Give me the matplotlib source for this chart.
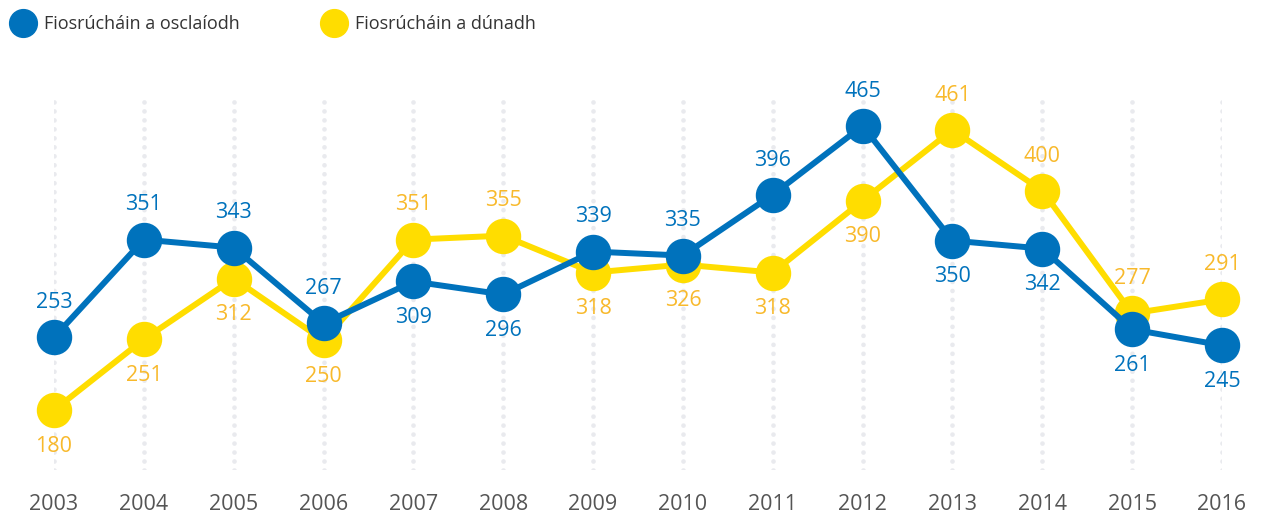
import matplotlib
matplotlib.use('Agg')
import matplotlib.pyplot as plt
from matplotlib.lines import Line2D

plt.rcParams['font.family'] = ['Open Sans', 'DejaVu Sans']

years = [2003, 2004, 2005, 2006, 2007, 2008, 2009, 2010, 2011, 2012, 2013, 2014, 2015, 2016]
opened = [253, 351, 343, 267, 309, 296, 339, 335, 396, 465, 350, 342, 261, 245]
closed = [180, 251, 312, 250, 351, 355, 318, 326, 318, 390, 461, 400, 277, 291]
# label above (+1) or below (-1) each point
opened_pos = [1, 1, 1, 1, -1, -1, 1, 1, 1, 1, -1, -1, -1, -1]
closed_pos = [-1, -1, -1, -1, 1, 1, -1, -1, -1, -1, 1, 1, 1, 1]
series_names = ['Fiosrúcháin a osclaíodh', 'Fiosrúcháin a dúnadh']

blue = '#0072BC'
yellow = '#FFDD00'
yellow_text = '#F8B92B'

W, H = 1262, 521
fig = plt.figure(figsize=(W / 100, H / 100), dpi=100)
ax = fig.add_axes([54 / W, 1 - 470 / H, (1222 - 54) / W, (470 - 93) / H])

for yr in years:
    ax.axvline(yr, color='#e9eaee', linewidth=3.4, linestyle=(0, (0.001, 1.9)),
               dash_capstyle='round', zorder=0)

ax.plot(years, closed, color=yellow, linewidth=4.3, marker='o', markersize=24.5,
        clip_on=False, zorder=2)
ax.plot(years, opened, color=blue, linewidth=4.3, marker='o', markersize=24.5,
        clip_on=False, zorder=3)


def label(xs, vals, pos, color):
    for x, v, p in zip(xs, vals, pos):
        off = 25 if p > 0 else -26
        ax.annotate(str(v), (x, v), xytext=(0, off), textcoords='offset points',
                    ha='center', va='center', fontsize=15.5, color=color, zorder=4)


label(years, closed, closed_pos, yellow_text)
label(years, opened, opened_pos, blue)

ax.set_xlim(2003, 2016)
ax.set_ylim(120, 498)
ax.set_xticks(years)
ax.set_xticklabels([str(y) for y in years], fontsize=15.5, color='#555555')
ax.tick_params(axis='x', length=0, pad=17)
ax.set_yticks([])
for s in ax.spines.values():
    s.set_visible(False)

handles = [Line2D([], [], color=c, marker='o', linestyle='', markersize=20)
           for c in (blue, yellow)]
fig.legend(handles, series_names, loc='upper left', bbox_to_anchor=(0.0, 0.995),
           ncol=2, frameon=False, fontsize=13, handletextpad=0.55,
           columnspacing=4.6, handlelength=1.2, borderaxespad=0.3,
           labelcolor='#333333')

fig.savefig('out.png', dpi=100)
